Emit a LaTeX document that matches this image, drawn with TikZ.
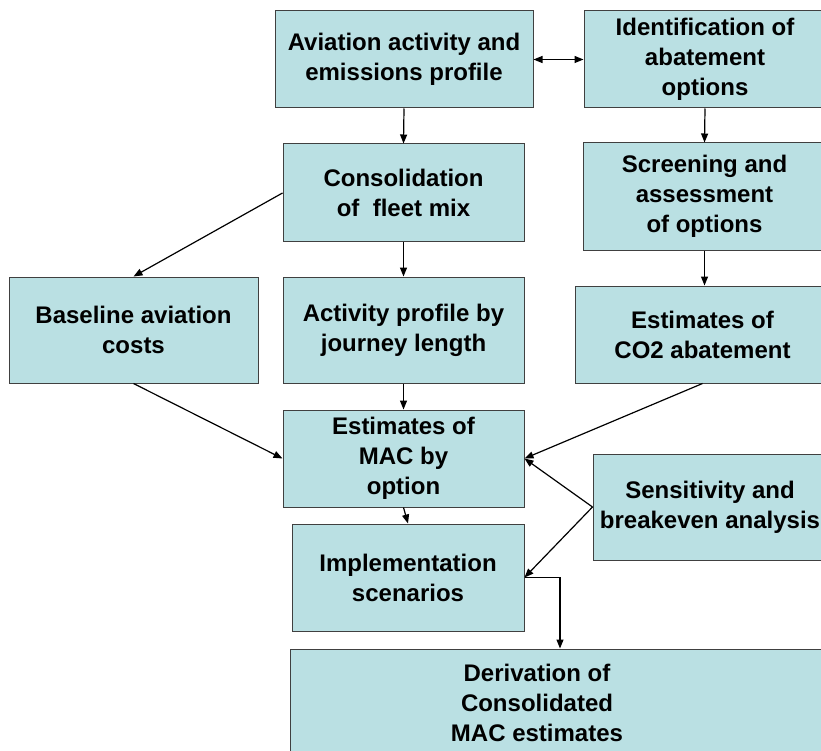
\documentclass[tikz,border=0pt]{standalone}
\usepackage{fontspec}
\setmainfont{Liberation Sans}
\usetikzlibrary{arrows.meta}
\definecolor{boxblue}{RGB}{186,224,227}
\tikzset{
    flow box/.style={
        draw=black!75,line width=1pt,
        fill=boxblue,
        align=center,inner sep=0pt,
        font=\bfseries\fontsize{24}{30}\selectfont
    },
    flow text/.style={
        align=center,inner sep=0pt,
        font=\bfseries\fontsize{24}{30}\selectfont
    },
    flow arrow/.style={->,line width=1.2pt},
    >={Triangle[length=9pt,width=7pt]}
}

\begin{document}
\begin{tikzpicture}[x=1pt,y=-1pt]
        \useasboundingbox (0,0) rectangle (821,751);
        \clip (0,0) rectangle (821,751);
        % top row
        \node[flow box,minimum width=258pt,minimum height=97pt] (avia) at (404,59.5) {Aviation activity and\\ emissions profile};
        \node[flow box,minimum width=242pt,minimum height=97pt] (ident) at (705,59.5) {Identification of\\ abatement\\ options};
        % second row
        \node[flow box,minimum width=241pt,minimum height=98pt] (cons) at (403.5,193) {Consolidation\\ of\ \ fleet mix};
        \node[flow box,minimum width=243pt,minimum height=107pt] (screen) at (704.5,196.5) {Screening and\\ assessment\\ of options};
        % third row
        \node[flow box,minimum width=249pt,minimum height=106pt] (base) at (133.5,330) {Baseline aviation\\ costs};
        \node[flow box,minimum width=241pt,minimum height=106pt] (act) at (403.5,330) {Activity profile by\\ journey length};
        \node[flow box,minimum width=255pt,minimum height=97pt] (co2) at (702.5,334.5) {Estimates of\\ CO2 abatement};
        % lower part
        \node[flow box,minimum width=241pt,minimum height=97pt] (mac) at (403.5,458.5) {Estimates of\\ MAC by\\ option};
        \node[flow box,minimum width=234pt,minimum height=106pt] (sens) at (710,507) {Sensitivity and\\ breakeven analysis};
        \node[flow box,minimum width=232pt,minimum height=107pt] (impl) at (408,577.5) {Implementation\\ scenarios};
        \node[flow box,minimum width=540pt,minimum height=126pt] (deriv) at (560,712) {};
        \node[flow text] (deriv text) at (537,703) {Derivation of\\ Consolidated\\ MAC estimates};
        % connectors
        \draw[flow arrow,<->] (avia.east) -- (ident.west);
        \draw[flow arrow] (avia.south) -- (cons.north);
        \draw[flow arrow] (ident.south) -- (screen.north);
        \draw[flow arrow] (cons.west) -- (base.north);
        \draw[flow arrow] (cons.south) -- (act.north);
        \draw[flow arrow] (screen.south) -- (screen.south |- co2.north);
        \draw[flow arrow] (base.south) -- (mac.west);
        \draw[flow arrow] (act.south) -- (mac.north);
        \draw[flow arrow] (co2.south) -- (mac.east);
        \draw[flow arrow] (sens.west) -- (mac.east);
        \draw[flow arrow] (sens.west) -- (impl.east);
        \draw[flow arrow] (mac.south) -- (impl.north);
        \draw[flow arrow] (impl.east) -| (deriv.north);
\end{tikzpicture}
\end{document}
